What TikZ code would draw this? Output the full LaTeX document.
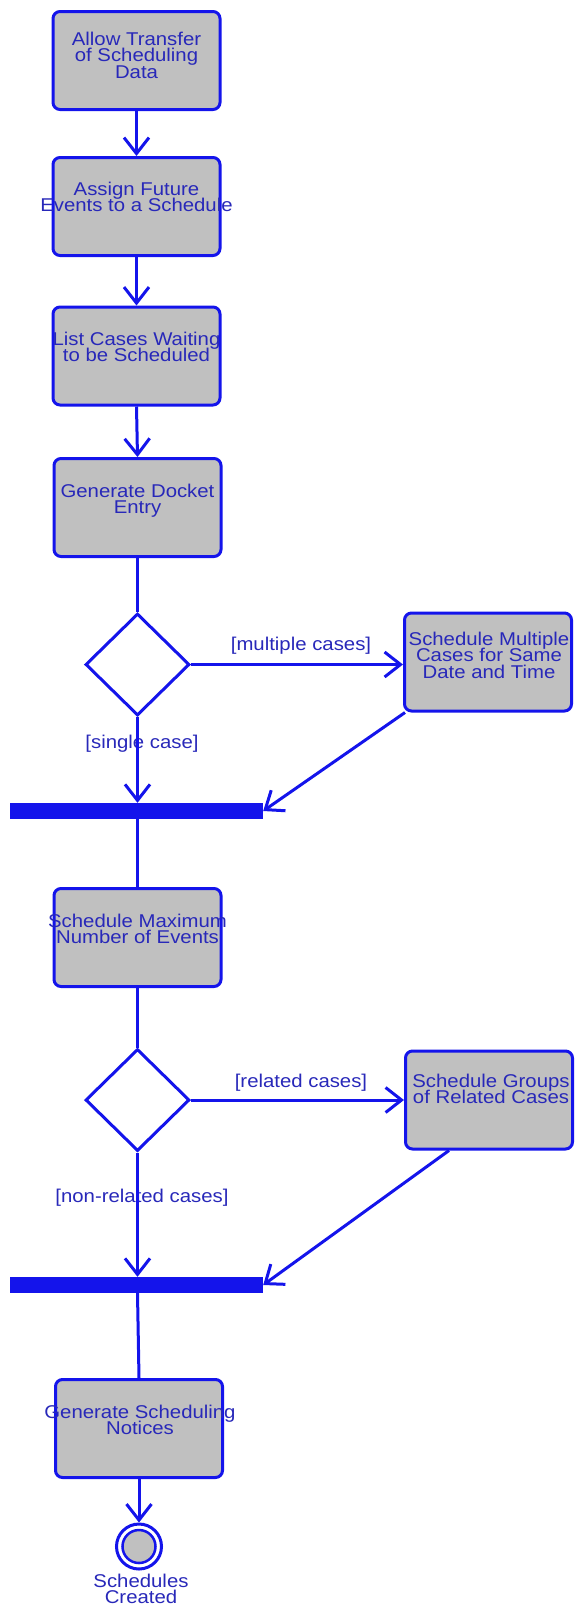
\documentclass[tikz,border=0pt]{standalone}
\usepackage{fontspec}
\setmainfont{Liberation Sans}[FakeStretch=1.1]
\usetikzlibrary{shapes.geometric,arrows.meta,calc}
\definecolor{ln}{RGB}{20,20,235}
\definecolor{tx}{RGB}{40,40,185}
\definecolor{bx}{RGB}{192,192,192}
\newcommand\myboxfont{\fontsize{18.5}{16.7}\selectfont\lineskiplimit=-100pt\relax\lineskip=0pt\relax}
\tikzset{
 act/.style={draw=ln, line width=3pt, fill=bx, rounded corners=7pt, minimum width=167pt, minimum height=98pt, inner sep=0pt},
 txt/.style={text=tx, font=\myboxfont, align=center, inner sep=0pt, anchor=north},
 dec/.style={diamond, draw=ln, line width=3pt, fill=white, minimum width=104pt, minimum height=102pt, inner sep=0pt},
 barnode/.style={fill=ln, minimum width=253pt, minimum height=16pt, inner sep=0pt},
 flow/.style={draw=ln, line width=3pt},
 arr/.style={flow, -{Straight Barb[length=16pt, width=25pt, line width=3pt]}},
}
\begin{document}
\begin{tikzpicture}[x=1pt, y=-1pt]
\useasboundingbox (0,0) rectangle (576,1610);
% activity boxes
\node[act] (b1) at (136.5,60.5) {};
\node[act] (b2) at (136.5,206.5) {};
\node[act] (b3) at (136.5,356) {};
\node[act] (b4) at (137.5,507.5) {};
\node[act] (b5) at (137.5,937.5) {};
\node[act] (b6) at (139,1428.5) {};
\node[act] (mc) at (488,662) {};
\node[act] (rc) at (489,1100) {};
% decisions
\node[dec] (d1) at (137.5,664.5) {};
\node[dec] (d2) at (137.5,1100) {};
% join bars
\node[barnode] (bar1) at (136.5,811) {};
\node[barnode] (bar2) at (136.5,1285) {};
% final state
\node[circle, draw=ln, line width=3pt, fill=white, minimum size=45pt, inner sep=0pt] (fin) at (139,1546.5) {};
\node[circle, draw=ln, line width=2.5pt, fill=bx, minimum size=33pt, inner sep=0pt] (fininner) at (fin.center) {};
% texts
\node[txt] (t1) at (136.5,31.5) {Allow Transfer\\of Scheduling\\Data};
\node[txt] (t2) at (136.5,181.5) {Assign Future\\Events to a Schedule};
\node[txt] (t3) at (136.5,331.5) {List Cases Waiting\\to be Scheduled};
\node[txt] (t4) at (137.5,483.5) {Generate Docket\\Entry};
\node[txt] (t5) at (137.5,913.5) {Schedule Maximum\\Number of Events};
\node[txt] (t6) at (140,1404.5) {Generate Scheduling\\Notices};
\node[txt] (tmc) at (489,631.5) {Schedule Multiple\\Cases for Same\\Date and Time};
\node[txt] (trc) at (491,1073.5) {Schedule Groups\\of Related Cases};
\node[txt] (tfin) at (141,1573.5) {Schedules\\Created};
% guard labels
\node[txt] (lmc) at (301,636.5) {[multiple cases]};
\node[txt] (lsc) at (142,734.5) {[single case]};
\node[txt] (lrc) at (301,1073.5) {[related cases]};
\node[txt] (lnr) at (142,1188.5) {[non-related cases]};
% connectors
\draw[arr] (b1.south) -- (b2.north);
\draw[arr] (b2.south) -- (b3.north);
\draw[arr] (b3.south) -- (b4.north);
\draw[flow] (b4.south) -- (d1.north);
\draw[arr] (d1.east) -- (d1.east -| mc.west);
\draw[arr] (d1.south) -- (d1.south |- bar1.north);
\draw[arr] ($(mc.south west)+(2,0)$) -- (bar1.east);
\draw[flow] (bar1.south -| d1.south) -- (b5.north);
\draw[flow] (b5.south) -- (d2.north);
\draw[arr] (d2.east) -- (d2.east -| rc.west);
\draw[arr] (d2.south) -- (d2.south |- bar2.north);
\draw[arr] ($(rc.south west)+(45,0)$) -- (bar2.east);
\draw[flow] (bar2.south -| d2.south) -- (b6.north);
\draw[arr] (b6.south) -- (fin.north);
\end{tikzpicture}
\end{document}
